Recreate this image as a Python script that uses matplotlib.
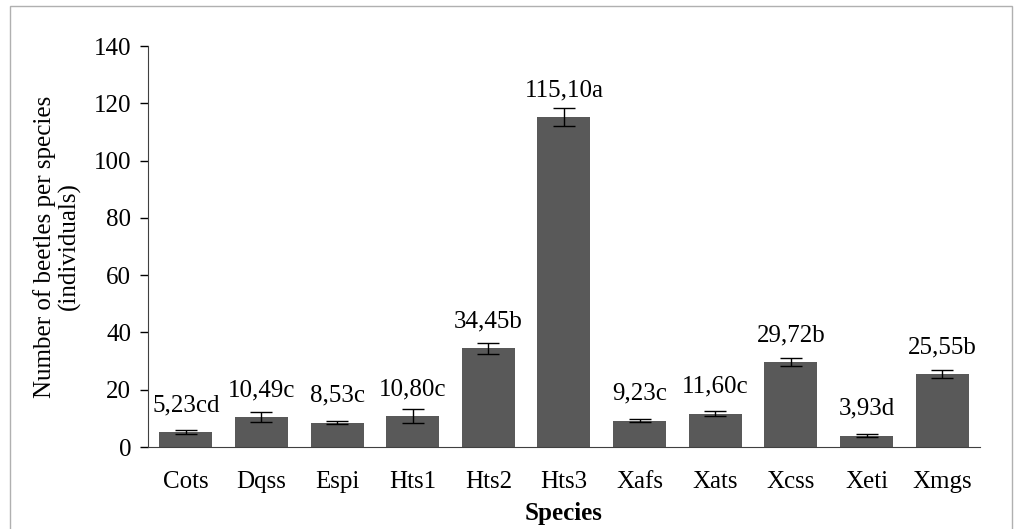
import matplotlib
matplotlib.use('Agg')
import matplotlib.pyplot as plt
from matplotlib.patches import Rectangle

# 各物种甲虫数量（均值 ± 误差）及显著性字母
species = ['Cots', 'Dqss', 'Espi', 'Hts1', 'Hts2', 'Hts3',
           'Xafs', 'Xats', 'Xcss', 'Xeti', 'Xmgs']
means = [5.23, 10.49, 8.53, 10.80, 34.45, 115.10, 9.23, 11.60, 29.72, 3.93, 25.55]
errors = [0.7, 1.6, 0.5, 2.4, 1.85, 3.1, 0.5, 0.8, 1.35, 0.6, 1.3]
letters = ['cd', 'c', 'c', 'c', 'b', 'a', 'c', 'c', 'b', 'd', 'b']

plt.rcParams['font.family'] = ['Liberation Serif', 'DejaVu Serif']
plt.rcParams['font.size'] = 18

fig = plt.figure(figsize=(10.19, 5.29), dpi=100)
ax = fig.add_axes([0.1452, 0.155, 0.8165, 0.758])

x = range(len(species))
ax.bar(x, means, width=0.7, color='#595959', yerr=errors, capsize=8,
       error_kw={'elinewidth': 1, 'capthick': 1, 'ecolor': 'black'})

# 柱顶数值标注（相对柱顶固定偏移）
for i, (m, l) in enumerate(zip(means, letters)):
    label = ('%.2f' % m).replace('.', ',') + l
    ax.annotate(label, (i, m), xytext=(0, 15), textcoords='offset points',
                ha='center', va='baseline', fontsize=18)

ax.set_xlim(-0.5, len(species) - 0.5)
ax.set_ylim(0, 140)
ax.set_yticks(range(0, 141, 20))
ax.set_xticks(list(x))
ax.set_xticklabels(species)
ax.tick_params(axis='x', length=0, pad=17)
ax.tick_params(axis='y', length=6, width=1, pad=6)
ax.spines['top'].set_visible(False)
ax.spines['right'].set_visible(False)
ax.spines['left'].set_color('#404040')
ax.spines['bottom'].set_color('#404040')

ax.set_ylabel('Number of beetles per species\n(individuals)', fontsize=18,
              labelpad=9, linespacing=1.1)
ax.set_xlabel('Species', fontsize=18, fontweight='bold', labelpad=7)

# 外框
fig.patches.append(Rectangle((10 / 1019, -0.05), 1002 / 1019, 1 - 6 / 529 + 0.05,
                             transform=fig.transFigure, fill=False,
                             edgecolor='#b0b0b0', linewidth=1))

fig.savefig('out.png', dpi=100)
